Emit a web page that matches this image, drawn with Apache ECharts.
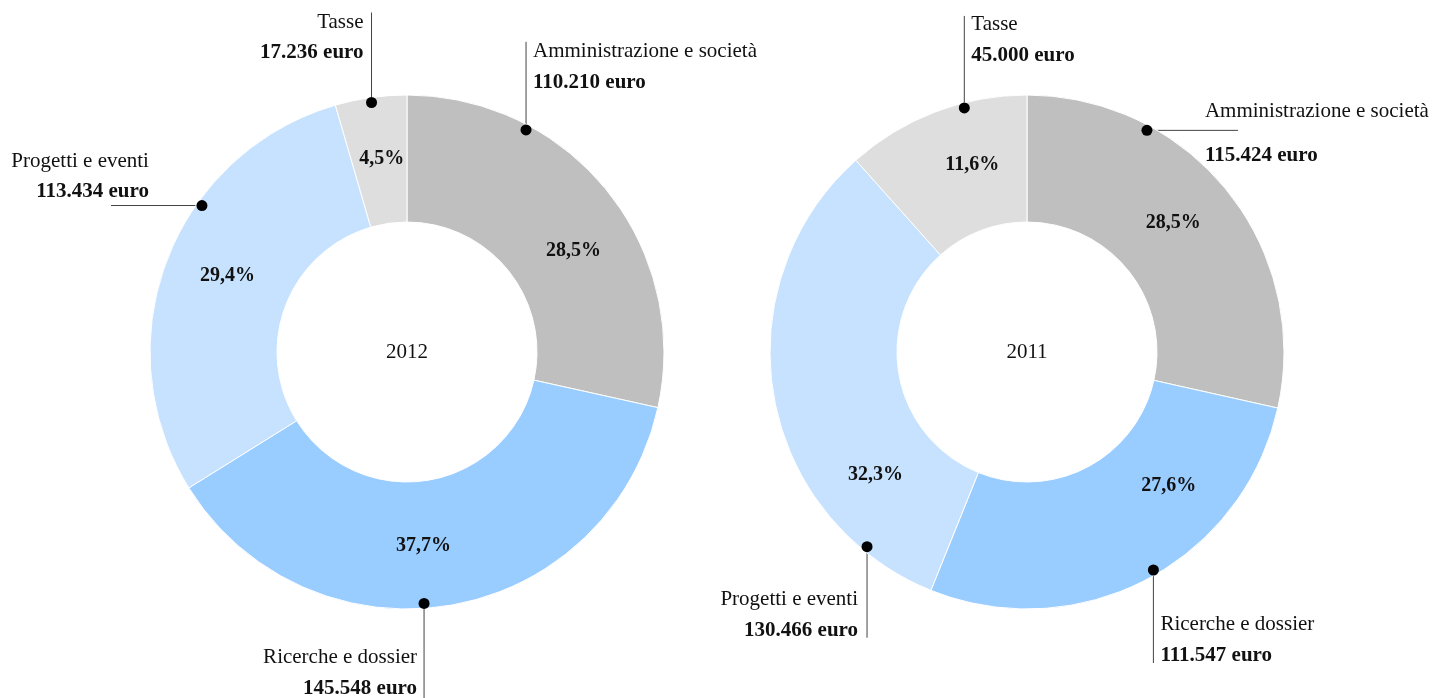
<!DOCTYPE html>
<html><head><meta charset="utf-8">
<script src="https://cdn.jsdelivr.net/npm/echarts@6.0.0/dist/echarts.min.js"></script>
<style>html,body{margin:0;padding:0;background:#fff}#c{width:1436px;height:698px}</style>
</head><body><div id="c"></div>
<script>
// ---- data ----
const categories = ['Amministrazione e società', 'Ricerche e dossier', 'Progetti e eventi', 'Tasse'];
const years = ['2012', '2011'];
const pct2012 = [28.5, 37.7, 29.4, 4.5];
const euro2012 = [110210, 145548, 113434, 17236];
const pct2011 = [28.5, 27.6, 32.3, 11.6];
const euro2011 = [115424, 111547, 130466, 45000];
const colors = ['#bfbfbf', '#99ccff', '#c6e2ff', '#dedede'];

// ---- layout config ----
const FONT = 'Liberation Serif';
const centers = [[407, 352], [1027, 352]];
const R_IN = 130, R_OUT = 257, R_DOT = 252, R_PCT = 195;
// where along each slice (0..1) the percentage label sits
const pctFrac = [[0.572, 0.536, 0.52, 0.54], [0.474, 0.31, 0.25, 0.61]];
const leaders = [
  [
    {frac: 0.275, line: [0, -88], text: [7, -6], align: 'left', va: 'top'},
    {frac: 0.543, line: [0, 95], text: [-7, 6], align: 'right', va: 'bottom'},
    {frac: 0.638, line: [-91, 0], text: [38, 2], align: 'right', va: 'bottom'},
    {frac: 0.5, line: [0, -90], text: [-8, -6], align: 'right', va: 'top'}
  ],
  [
    {frac: 0.277, line: [91, 0], text: [-33, -34], align: 'left', va: 'top', gap: true},
    {frac: 0.476, line: [0, 93], text: [7, 8], align: 'left', va: 'bottom'},
    {frac: 0.15, line: [0, 91], text: [-9, 8], align: 'right', va: 'bottom'},
    {frac: 0.655, line: [0, -92], text: [7, -7], align: 'left', va: 'top'}
  ]
];

const pcts = [pct2012, pct2011];
const euros = [euro2012, euro2011];

function fmtEuro(n) { return String(n).replace(/\B(?=(\d{3})+(?!\d))/g, '.') + ' euro'; }
function fmtPct(v) { return v.toFixed(1).replace('.', ',') + '%'; }

function polarPx(c, angleVal, S, r) {
  const th = angleVal / S * Math.PI * 2;
  return [centers[c][0] + r * Math.sin(th), centers[c][1] - r * Math.cos(th)];
}

// dot angle values (in data units along the angle axis) and pixel positions
const dotAngles = [], dotPx = [], pctPx = [], sums = [];
pcts.forEach(function (arr, c) {
  const S = arr.reduce(function (a, b) { return a + b; }, 0);
  sums.push(S);
  let start = 0;
  const angs = [], px = [], lp = [];
  arr.forEach(function (v, i) {
    const a = start + leaders[c][i].frac * v;
    angs.push(a);
    px.push(polarPx(c, a, S, R_DOT));
    lp.push(polarPx(c, start + pctFrac[c][i] * v, S, R_PCT));
    start += v;
  });
  dotAngles.push(angs);
  dotPx.push(px);
  pctPx.push(lp);
});

function makeLayout(c) {
  return function (p) {
    const i = p.dataIndex;
    const d = dotPx[c][i];
    const L = leaders[c][i];
    const ex = d[0] + L.line[0], ey = d[1] + L.line[1];
    return {
      x: ex + L.text[0], y: ey + L.text[1],
      align: L.align, verticalAlign: L.va,
      labelLinePoints: [[d[0], d[1]], [ex, ey], [ex, ey]]
    };
  };
}
function makePctLayout(c) {
  return function (p) {
    const q = pctPx[c][p.dataIndex];
    return {x: q[0], y: q[1], align: 'center', verticalAlign: 'middle'};
  };
}

const rich = {
  n: {fontFamily: FONT, fontSize: 21, color: '#111', lineHeight: 31},
  v: {fontFamily: FONT, fontSize: 21, color: '#111', fontWeight: 'bold', lineHeight: 31},
  v2: {fontFamily: FONT, fontSize: 21, color: '#111', fontWeight: 'bold', lineHeight: 57}
};

const series = [];
const polar = [], angleAxis = [], radiusAxis = [];
[0, 1].forEach(function (c) {
  const data = categories.map(function (name, i) {
    return {name: name, value: pcts[c][i], itemStyle: {color: colors[i]}};
  });
  series.push({
    type: 'pie', center: centers[c], radius: [R_IN, R_OUT],
    startAngle: 90, clockwise: true, avoidLabelOverlap: false, silent: true,
    itemStyle: {borderColor: '#fff', borderWidth: 1},
    label: {
      show: true, position: 'inside',
      formatter: function (p) { return fmtPct(p.value); },
      fontFamily: FONT, fontSize: 20, fontWeight: 'bold', color: '#111'
    },
    labelLine: {show: false},
    labelLayout: makePctLayout(c),
    emphasis: {disabled: true},
    data: data
  });
  series.push({
    type: 'pie', center: centers[c], radius: [R_IN, R_OUT],
    startAngle: 90, clockwise: true, avoidLabelOverlap: false, silent: true,
    itemStyle: {color: 'rgba(0,0,0,0)', borderWidth: 0},
    label: {
      show: true, position: 'outside',
      formatter: function (p) {
        const i = p.dataIndex;
        const tok = leaders[c][i].gap ? 'v2' : 'v';
        return '{n|' + categories[i] + '}\n{' + tok + '|' + fmtEuro(euros[c][i]) + '}';
      },
      rich: rich
    },
    labelLine: {show: true, smooth: false, lineStyle: {color: '#444', width: 1}},
    labelLayout: makeLayout(c),
    emphasis: {disabled: true},
    data: categories.map(function (name, i) { return {name: name, value: pcts[c][i]}; })
  });
  polar.push({center: centers[c], radius: R_OUT});
  angleAxis.push({polarIndex: c, type: 'value', min: 0, max: sums[c], startAngle: 90, clockwise: true, show: false});
  radiusAxis.push({polarIndex: c, type: 'value', min: 0, max: R_OUT, show: false});
  series.push({
    type: 'scatter', coordinateSystem: 'polar', polarIndex: c, z: 10, silent: true,
    symbol: 'circle', symbolSize: 11, itemStyle: {color: '#000', opacity: 1},
    data: dotAngles[c].map(function (a) { return [R_DOT, a]; })
  });
});

const chart = echarts.init(document.getElementById('c'), null, {renderer: 'canvas'});
chart.setOption({
  animation: false,
  backgroundColor: '#fff',
  polar: polar, angleAxis: angleAxis, radiusAxis: radiusAxis,
  graphic: years.map(function (y, c) {
    return {
      type: 'text', x: centers[c][0], y: centers[c][1], z: 20,
      style: {text: y, font: '21px "' + FONT + '"', fill: '#111',
        align: 'center', verticalAlign: 'middle', textAlign: 'center', textVerticalAlign: 'middle'}
    };
  }),
  series: series
});
</script></body></html>
